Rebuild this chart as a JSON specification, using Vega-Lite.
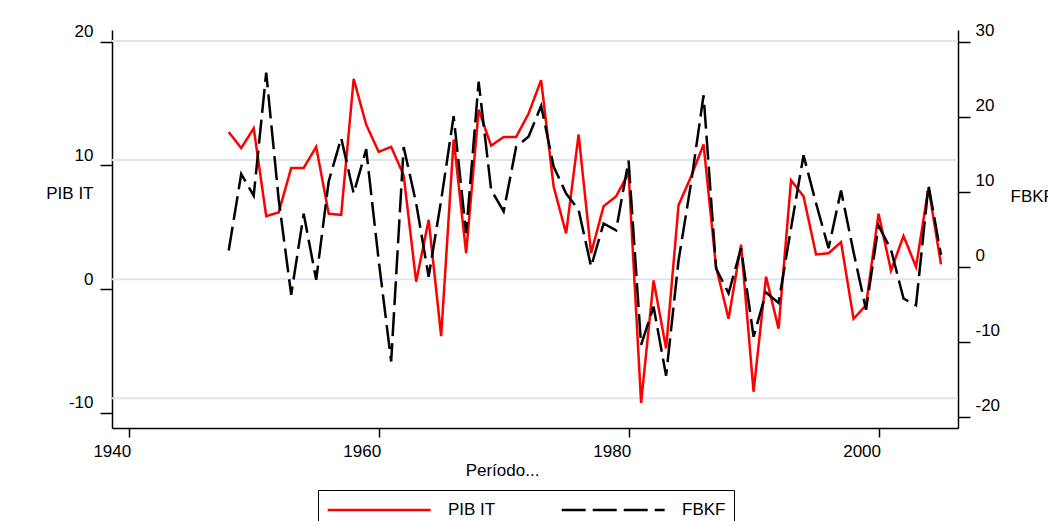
{
  "$schema": "https://vega.github.io/schema/vega-lite/v6.json",
  "width": 846,
  "height": 398,
  "autosize": "none",
  "padding": {"left": 112, "top": 30, "right": 90, "bottom": 93},
  "background": "white",
  "config": {"view": {"stroke": null}, "font": "Liberation Sans"},
  "datasets": {
    "grid": [{"value": 20.06}, {"value": 10.44}, {"value": 0.79}, {"value": -8.83}],
    "series": [
      {"year": 1948, "series": "PIB IT", "value": 12.7},
      {"year": 1949, "series": "PIB IT", "value": 11.4},
      {"year": 1950, "series": "PIB IT", "value": 13.0},
      {"year": 1951, "series": "PIB IT", "value": 5.9},
      {"year": 1952, "series": "PIB IT", "value": 6.2},
      {"year": 1953, "series": "PIB IT", "value": 9.8},
      {"year": 1954, "series": "PIB IT", "value": 9.8},
      {"year": 1955, "series": "PIB IT", "value": 11.5},
      {"year": 1956, "series": "PIB IT", "value": 6.1},
      {"year": 1957, "series": "PIB IT", "value": 6.0},
      {"year": 1958, "series": "PIB IT", "value": 17.0},
      {"year": 1959, "series": "PIB IT", "value": 13.3},
      {"year": 1960, "series": "PIB IT", "value": 11.1},
      {"year": 1961, "series": "PIB IT", "value": 11.5},
      {"year": 1962, "series": "PIB IT", "value": 9.2},
      {"year": 1963, "series": "PIB IT", "value": 0.6},
      {"year": 1964, "series": "PIB IT", "value": 5.6},
      {"year": 1965, "series": "PIB IT", "value": -3.8},
      {"year": 1966, "series": "PIB IT", "value": 12.1},
      {"year": 1967, "series": "PIB IT", "value": 2.9},
      {"year": 1968, "series": "PIB IT", "value": 14.5},
      {"year": 1969, "series": "PIB IT", "value": 11.6},
      {"year": 1970, "series": "PIB IT", "value": 12.3},
      {"year": 1971, "series": "PIB IT", "value": 12.3},
      {"year": 1972, "series": "PIB IT", "value": 14.2},
      {"year": 1973, "series": "PIB IT", "value": 16.9},
      {"year": 1974, "series": "PIB IT", "value": 8.3},
      {"year": 1975, "series": "PIB IT", "value": 4.5},
      {"year": 1976, "series": "PIB IT", "value": 12.5},
      {"year": 1977, "series": "PIB IT", "value": 2.9},
      {"year": 1978, "series": "PIB IT", "value": 6.7},
      {"year": 1979, "series": "PIB IT", "value": 7.5},
      {"year": 1980, "series": "PIB IT", "value": 9.4},
      {"year": 1981, "series": "PIB IT", "value": -9.2},
      {"year": 1982, "series": "PIB IT", "value": 0.7},
      {"year": 1983, "series": "PIB IT", "value": -4.8},
      {"year": 1984, "series": "PIB IT", "value": 6.8},
      {"year": 1985, "series": "PIB IT", "value": 9.1},
      {"year": 1986, "series": "PIB IT", "value": 11.7},
      {"year": 1987, "series": "PIB IT", "value": 1.8},
      {"year": 1988, "series": "PIB IT", "value": -2.4},
      {"year": 1989, "series": "PIB IT", "value": 3.6},
      {"year": 1990, "series": "PIB IT", "value": -8.3},
      {"year": 1991, "series": "PIB IT", "value": 1.0},
      {"year": 1992, "series": "PIB IT", "value": -3.2},
      {"year": 1993, "series": "PIB IT", "value": 8.8},
      {"year": 1994, "series": "PIB IT", "value": 7.5},
      {"year": 1995, "series": "PIB IT", "value": 2.8},
      {"year": 1996, "series": "PIB IT", "value": 2.9},
      {"year": 1997, "series": "PIB IT", "value": 3.8},
      {"year": 1998, "series": "PIB IT", "value": -2.4},
      {"year": 1999, "series": "PIB IT", "value": -1.3},
      {"year": 2000, "series": "PIB IT", "value": 6.1},
      {"year": 2001, "series": "PIB IT", "value": 1.5},
      {"year": 2002, "series": "PIB IT", "value": 4.3},
      {"year": 2003, "series": "PIB IT", "value": 1.8},
      {"year": 2004, "series": "PIB IT", "value": 8.2},
      {"year": 2005, "series": "PIB IT", "value": 2.0},
      {"year": 1948, "series": "FBKF", "value": 2.2},
      {"year": 1949, "series": "FBKF", "value": 12.4},
      {"year": 1950, "series": "FBKF", "value": 9.5},
      {"year": 1951, "series": "FBKF", "value": 25.9},
      {"year": 1952, "series": "FBKF", "value": 9.0},
      {"year": 1953, "series": "FBKF", "value": -3.7},
      {"year": 1954, "series": "FBKF", "value": 7.1},
      {"year": 1955, "series": "FBKF", "value": -1.7},
      {"year": 1956, "series": "FBKF", "value": 11.4},
      {"year": 1957, "series": "FBKF", "value": 17.2},
      {"year": 1958, "series": "FBKF", "value": 9.8},
      {"year": 1959, "series": "FBKF", "value": 15.7},
      {"year": 1960, "series": "FBKF", "value": 0.9},
      {"year": 1961, "series": "FBKF", "value": -12.6},
      {"year": 1962, "series": "FBKF", "value": 16.0},
      {"year": 1963, "series": "FBKF", "value": 8.5},
      {"year": 1964, "series": "FBKF", "value": -1.3},
      {"year": 1965, "series": "FBKF", "value": 8.9},
      {"year": 1966, "series": "FBKF", "value": 20.1},
      {"year": 1967, "series": "FBKF", "value": 4.5},
      {"year": 1968, "series": "FBKF", "value": 24.7},
      {"year": 1969, "series": "FBKF", "value": 10.3},
      {"year": 1970, "series": "FBKF", "value": 7.4},
      {"year": 1971, "series": "FBKF", "value": 16.0},
      {"year": 1972, "series": "FBKF", "value": 17.4},
      {"year": 1973, "series": "FBKF", "value": 21.5},
      {"year": 1974, "series": "FBKF", "value": 13.4},
      {"year": 1975, "series": "FBKF", "value": 9.8},
      {"year": 1976, "series": "FBKF", "value": 7.6},
      {"year": 1977, "series": "FBKF", "value": 0.05},
      {"year": 1978, "series": "FBKF", "value": 5.8},
      {"year": 1979, "series": "FBKF", "value": 4.9},
      {"year": 1980, "series": "FBKF", "value": 14.2},
      {"year": 1981, "series": "FBKF", "value": -10.4},
      {"year": 1982, "series": "FBKF", "value": -5.3},
      {"year": 1983, "series": "FBKF", "value": -14.5},
      {"year": 1984, "series": "FBKF", "value": 0.9},
      {"year": 1985, "series": "FBKF", "value": 11.2},
      {"year": 1986, "series": "FBKF", "value": 22.9},
      {"year": 1987, "series": "FBKF", "value": -0.2},
      {"year": 1988, "series": "FBKF", "value": -3.5},
      {"year": 1989, "series": "FBKF", "value": 2.5},
      {"year": 1990, "series": "FBKF", "value": -9.3},
      {"year": 1991, "series": "FBKF", "value": -3.4},
      {"year": 1992, "series": "FBKF", "value": -4.8},
      {"year": 1993, "series": "FBKF", "value": 5.2},
      {"year": 1994, "series": "FBKF", "value": 14.9},
      {"year": 1995, "series": "FBKF", "value": 8.5},
      {"year": 1996, "series": "FBKF", "value": 2.5},
      {"year": 1997, "series": "FBKF", "value": 10.2},
      {"year": 1998, "series": "FBKF", "value": 2.0},
      {"year": 1999, "series": "FBKF", "value": -5.7},
      {"year": 2000, "series": "FBKF", "value": 5.5},
      {"year": 2001, "series": "FBKF", "value": 2.3},
      {"year": 2002, "series": "FBKF", "value": -4.2},
      {"year": 2003, "series": "FBKF", "value": -5.1},
      {"year": 2004, "series": "FBKF", "value": 10.9},
      {"year": 2005, "series": "FBKF", "value": 1.6}
    ]
  },
  "layer": [
    {
      "layer": [
        {
          "data": {"name": "grid"},
          "mark": {"type": "rule", "color": "#e0e4f0", "strokeWidth": 2},
          "encoding": {
            "y": {
              "field": "value", "type": "quantitative",
              "scale": {"domain": [-11.23, 20.95], "nice": false, "zero": false},
              "axis": {"title": "PIB IT", "titleAngle": 0, "titleAlign": "right", "titleBaseline": "middle", "titleX": -19, "titleY": 163, "titleFontSize": 17, "titleFontWeight": "normal", "titleColor": "black", "values": [-10, 0, 10, 20], "labelExpr": "datum.value < 0 ? '-' + abs(datum.value) : '' + datum.value", "labelFontSize": 17, "labelColor": "black", "labelPadding": 7, "labelOffset": -10, "labelBaseline": "middle", "tickSize": 12, "tickColor": "black", "tickWidth": 1.5, "domainColor": "black", "domainWidth": 1.5, "grid": false}
            }
          }
        },
        {
          "data": {"name": "series"},
          "transform": [{"filter": "datum.series === 'PIB IT'"}],
          "mark": {"type": "line", "strokeWidth": 2.5},
          "encoding": {
            "x": {
              "field": "year", "type": "quantitative",
              "scale": {"domain": [1938.66, 2006.36], "nice": false, "zero": false},
              "axis": {"title": "Período...", "values": [1940, 1960, 1980, 2000], "format": "d", "labelAlign": "right", "labelOffset": 2, "labelPadding": 6, "labelFontSize": 17, "labelColor": "black", "tickSize": 9, "tickColor": "black", "tickWidth": 1.5, "domainColor": "black", "domainWidth": 1.5, "grid": false, "titleX": 390, "titleY": 42, "titleAlign": "center", "titleBaseline": "middle", "titleFontSize": 17, "titleFontWeight": "normal", "titleColor": "black"}
            },
            "y": {
              "field": "value", "type": "quantitative",
              "scale": {"domain": [-11.23, 20.95], "nice": false, "zero": false},
              "axis": {"title": "PIB IT", "titleAngle": 0, "titleAlign": "right", "titleBaseline": "middle", "titleX": -19, "titleY": 163, "titleFontSize": 17, "titleFontWeight": "normal", "titleColor": "black", "values": [-10, 0, 10, 20], "labelExpr": "datum.value < 0 ? '-' + abs(datum.value) : '' + datum.value", "labelFontSize": 17, "labelColor": "black", "labelPadding": 7, "labelOffset": -10, "labelBaseline": "middle", "tickSize": 12, "tickColor": "black", "tickWidth": 1.5, "domainColor": "black", "domainWidth": 1.5, "grid": false}
            },
            "color": {
              "field": "series", "type": "nominal",
              "scale": {"domain": ["PIB IT", "FBKF"], "range": ["#ff0000", "#000000"]},
              "legend": {"orient": "none", "legendX": 206, "legendY": 460, "direction": "horizontal", "columns": 2, "title": null, "symbolType": "M-1,0H9", "symbolSize": 424, "symbolStrokeWidth": 2.5, "labelFontSize": 17, "labelColor": "black", "labelOffset": 98, "columnPadding": 60, "padding": 8, "strokeColor": "black", "fillColor": "white"}
            },
            "strokeDash": {
              "field": "series", "type": "nominal",
              "scale": {"domain": ["PIB IT", "FBKF"], "range": [[1, 0], [24, 7]]}
            }
          }
        }
      ]
    },
    {
      "data": {"name": "series"},
      "transform": [{"filter": "datum.series === 'FBKF'"}],
      "mark": {"type": "line", "strokeWidth": 2.5},
      "encoding": {
        "x": {"field": "year", "type": "quantitative"},
        "y": {
          "field": "value", "type": "quantitative",
          "scale": {"domain": [-21.47, 31.6], "nice": false, "zero": false},
          "axis": {"orient": "right", "title": "FBKF", "titleAngle": 0, "titleAlign": "left", "titleBaseline": "middle", "titleX": 52, "titleY": 166, "titleFontSize": 17, "titleFontWeight": "normal", "titleColor": "black", "values": [-20, -10, 0, 10, 20, 30], "labelExpr": "datum.value < 0 ? '-' + abs(datum.value) : '' + datum.value", "labelFontSize": 17, "labelColor": "black", "labelPadding": 5, "labelOffset": -11, "labelBaseline": "middle", "labelAlign": "left", "tickSize": 12, "tickColor": "black", "tickWidth": 1.5, "domainColor": "black", "domainWidth": 1.5, "grid": false}
        },
        "color": {"field": "series", "type": "nominal"},
        "strokeDash": {"field": "series", "type": "nominal"}
      }
    }
  ],
  "resolve": {"scale": {"y": "independent"}}
}
